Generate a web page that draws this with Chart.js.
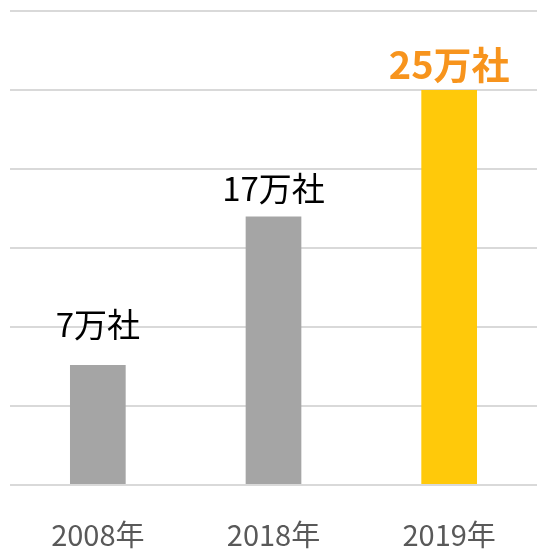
<!DOCTYPE html>
<html>
<head>
<meta charset="utf-8">
<script src="https://cdn.jsdelivr.net/npm/chart.js@4"></script>
<style>
  html, body { margin: 0; padding: 0; background: #fff; }
  #wrap { width: 537px; height: 549px; }
</style>
</head>
<body>
<div id="wrap"><canvas id="chart"></canvas></div>
<script>
const years = ['2008年', '2018年', '2019年'];
const companies = [7.6, 17, 25];
const valueLabels = ['7万社', '17万社', '25万社'];
const barColors = ['#a5a5a5', '#a5a5a5', '#ffc90a'];

const font = '"Noto Sans CJK JP", "Noto Sans", sans-serif';
const labelGap = [24, 11, 6];

// ラベルを棒の上に描く
const barLabels = {
    id: 'barLabels',
    afterDatasetsDraw(chart) {
        const ctx = chart.ctx;
        const meta = chart.getDatasetMeta(0);
        ctx.save();
        ctx.textAlign = 'center';
        ctx.textBaseline = 'bottom';
        meta.data.forEach((bar, i) => {
            const last = i === meta.data.length - 1;
            ctx.font = (last ? 'bold 38px ' : '33px ') + font;
            ctx.fillStyle = last ? '#f7941d' : '#000';
            ctx.fillText(valueLabels[i], bar.x, bar.y - labelGap[i]);
        });
        ctx.restore();
    }
};

new Chart(document.getElementById('chart'), {
    type: 'bar',
    data: {
        labels: years,
        datasets: [{
            data: companies,
            backgroundColor: barColors,
            barPercentage: 0.317,
            categoryPercentage: 1
        }]
    },
    options: {
        responsive: true,
        maintainAspectRatio: false,
        animation: false,
        layout: { padding: { left: 10, top: 11, right: -3, bottom: -35 } },
        plugins: {
            legend: { display: false },
            tooltip: { enabled: false }
        },
        scales: {
            x: {
                grid: { display: false, drawTicks: false },
                border: { display: false },
                ticks: {
                    color: '#595959',
                    padding: 35,
                    font: { family: font, size: 29, lineHeight: 1 }
                }
            },
            y: {
                min: 0,
                max: 30,
                ticks: { display: false, stepSize: 5 },
                border: { display: false },
                grid: { color: '#d9d9d9', lineWidth: 2, drawTicks: false }
            }
        }
    },
    plugins: [barLabels]
});
</script>
</body>
</html>
